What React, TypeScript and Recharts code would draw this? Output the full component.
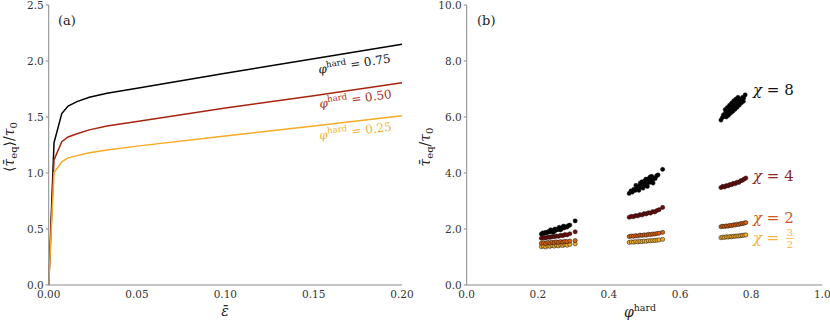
import { LineChart, Line, ScatterChart, Scatter, XAxis, YAxis } from "recharts";

const FONT = "'DejaVu Serif', serif";
const AXIS = "#8a8a8a";
const TICK_TEXT = "#333";

// panel (a): mean equivalent stress vs strain
const strain = [0, 0.003, 0.0074, 0.011, 0.016, 0.023, 0.033, 0.05, 0.1, 0.15, 0.2];
const phi75 = [0, 1.27, 1.53, 1.598, 1.637, 1.676, 1.712, 1.756, 1.89, 2.02, 2.15];
const phi50 = [0, 1.116, 1.28, 1.322, 1.35, 1.385, 1.42, 1.46, 1.58, 1.69, 1.806];
const phi25 = [0, 1.003, 1.1, 1.135, 1.155, 1.18, 1.205, 1.24, 1.33, 1.42, 1.512];
const strainTicks = [0, 0.05, 0.1, 0.15, 0.2];
const stressTicks = [0, 0.5, 1, 1.5, 2, 2.5];

// panel (b): [phi_hard, tau_eq/tau_0] per contrast chi
const chi8: [number, number][] = [
  [0.21, 1.82], [0.214, 1.86], [0.218, 1.84], [0.222, 1.88], [0.226, 1.87], [0.23, 1.91], [0.234, 1.89],
  [0.238, 1.93], [0.242, 1.92], [0.246, 1.96], [0.25, 1.95], [0.254, 1.99], [0.258, 1.98], [0.262, 2.02],
  [0.266, 2.01], [0.27, 2.05], [0.274, 2.04], [0.278, 2.08], [0.282, 2.07], [0.286, 2.12], [0.29, 2.14],
  [0.236, 1.97], [0.248, 2.0], [0.26, 2.06], [0.272, 2.1], [0.244, 1.88], [0.264, 1.97],
  [0.305, 2.29],
  [0.457, 3.27], [0.462, 3.36], [0.466, 3.32], [0.47, 3.42], [0.474, 3.38], [0.478, 3.47], [0.482, 3.43],
  [0.486, 3.53], [0.49, 3.49], [0.494, 3.58], [0.498, 3.54], [0.502, 3.64], [0.506, 3.6], [0.51, 3.69],
  [0.514, 3.66], [0.518, 3.77], [0.522, 3.72], [0.526, 3.82], [0.53, 3.8], [0.534, 3.9], [0.538, 3.93],
  [0.476, 3.56], [0.488, 3.64], [0.5, 3.72], [0.512, 3.8], [0.52, 3.88], [0.484, 3.38], [0.496, 3.46],
  [0.508, 3.52], [0.524, 3.64], [0.492, 3.68], [0.504, 3.78], [0.516, 3.86],
  [0.551, 4.13],
  [0.715, 5.89], [0.719, 5.98], [0.722, 6.08], [0.725, 6.03], [0.728, 6.15], [0.731, 6.1], [0.734, 6.22],
  [0.737, 6.17], [0.74, 6.3], [0.743, 6.24], [0.746, 6.36], [0.749, 6.31], [0.752, 6.43], [0.755, 6.38],
  [0.758, 6.49], [0.761, 6.45], [0.764, 6.57], [0.767, 6.52], [0.77, 6.63], [0.773, 6.6], [0.776, 6.7],
  [0.779, 6.68], [0.783, 6.79],
  [0.727, 6.26], [0.733, 6.34], [0.739, 6.42], [0.745, 6.5], [0.751, 6.58], [0.757, 6.64], [0.763, 6.7],
  [0.73, 6.0], [0.736, 6.06], [0.742, 6.14], [0.748, 6.2], [0.754, 6.27], [0.76, 6.34], [0.766, 6.42],
  [0.772, 6.5], [0.778, 6.56],
];
const chi4: [number, number][] = [
  [0.21, 1.67], [0.216, 1.69], [0.222, 1.68], [0.228, 1.71], [0.234, 1.7], [0.24, 1.73], [0.246, 1.72],
  [0.252, 1.75], [0.258, 1.74], [0.264, 1.77], [0.27, 1.76], [0.276, 1.8], [0.282, 1.79], [0.29, 1.83],
  [0.305, 1.9],
  [0.457, 2.42], [0.463, 2.45], [0.469, 2.44], [0.475, 2.48], [0.481, 2.47], [0.487, 2.51], [0.493, 2.5],
  [0.499, 2.55], [0.505, 2.54], [0.511, 2.58], [0.517, 2.57], [0.523, 2.62], [0.529, 2.61], [0.535, 2.66],
  [0.541, 2.69], [0.551, 2.77],
  [0.715, 3.48], [0.72, 3.52], [0.725, 3.5], [0.73, 3.55], [0.735, 3.54], [0.74, 3.59], [0.745, 3.58],
  [0.75, 3.63], [0.755, 3.62], [0.76, 3.67], [0.765, 3.66], [0.77, 3.72], [0.775, 3.74], [0.78, 3.78],
  [0.785, 3.82],
];
const chi2: [number, number][] = [
  [0.21, 1.49], [0.216, 1.51], [0.222, 1.48], [0.228, 1.52], [0.234, 1.5], [0.24, 1.53], [0.246, 1.51],
  [0.252, 1.54], [0.258, 1.52], [0.264, 1.55], [0.27, 1.53], [0.276, 1.56], [0.282, 1.55], [0.29, 1.57],
  [0.305, 1.59],
  [0.457, 1.73], [0.463, 1.75], [0.469, 1.74], [0.475, 1.76], [0.481, 1.75], [0.487, 1.78], [0.493, 1.77],
  [0.499, 1.79], [0.505, 1.78], [0.511, 1.81], [0.517, 1.8], [0.523, 1.82], [0.529, 1.82], [0.535, 1.84],
  [0.541, 1.85], [0.551, 1.88],
  [0.715, 2.08], [0.72, 2.1], [0.725, 2.09], [0.73, 2.11], [0.735, 2.1], [0.74, 2.13], [0.745, 2.12],
  [0.75, 2.15], [0.755, 2.14], [0.76, 2.17], [0.765, 2.16], [0.77, 2.19], [0.775, 2.19], [0.78, 2.21],
  [0.785, 2.23],
];
const chi15: [number, number][] = [
  [0.21, 1.37], [0.216, 1.39], [0.222, 1.36], [0.228, 1.4], [0.234, 1.38], [0.24, 1.41], [0.246, 1.39],
  [0.252, 1.42], [0.258, 1.4], [0.264, 1.43], [0.27, 1.41], [0.276, 1.44], [0.282, 1.42], [0.29, 1.45],
  [0.305, 1.47],
  [0.457, 1.52], [0.463, 1.54], [0.469, 1.53], [0.475, 1.55], [0.481, 1.54], [0.487, 1.56], [0.493, 1.55],
  [0.499, 1.57], [0.505, 1.56], [0.511, 1.58], [0.517, 1.58], [0.523, 1.59], [0.529, 1.59], [0.535, 1.6],
  [0.541, 1.61], [0.551, 1.63],
  [0.715, 1.69], [0.72, 1.71], [0.725, 1.7], [0.73, 1.72], [0.735, 1.71], [0.74, 1.73], [0.745, 1.72],
  [0.75, 1.74], [0.755, 1.74], [0.76, 1.75], [0.765, 1.75], [0.77, 1.76], [0.775, 1.77], [0.78, 1.78],
  [0.785, 1.79],
];
const phiTicks = [0, 0.2, 0.4, 0.6, 0.8, 1];
const tauTicks = [0, 2, 4, 6, 8, 10];

const curveData = strain.map((e, i) => ({ eps: e, p75: phi75[i], p50: phi50[i], p25: phi25[i] }));
const toPts = (arr: [number, number][]) => arr.map(([phi, tau]) => ({ phi, tau }));

const tickStyle = { fill: TICK_TEXT, fontSize: 10.5, fontFamily: FONT };

const dot = (fill: string) => (p: any) => (
  <circle cx={p.cx} cy={p.cy} r={2.1} fill={fill} stroke="#111" strokeWidth={0.5} />
);

function Overlay() {
  const t = { fontFamily: FONT };
  return (
    <svg width={830} height={323} style={{ position: "absolute", left: 0, top: 0, pointerEvents: "none", fontFamily: FONT }}>
      <text x={58} y={25} fontSize={13} fill="#222" {...t}>(a)</text>
      <text x={477} y={25} fontSize={13} fill="#222" {...t}>(b)</text>

      <text transform="translate(14,147) rotate(-90)" textAnchor="middle" fontSize={14} fill="#222" {...t}>
        ⟨<tspan fontStyle="italic">τ̄</tspan><tspan fontSize={10} dy={3}>eq</tspan><tspan dy={-3}>⟩/</tspan>
        <tspan fontStyle="italic">τ</tspan><tspan fontSize={10} dy={3}>0</tspan>
      </text>
      <text x={225} y={316} textAnchor="middle" fontSize={14} fontStyle="italic" fill="#222" {...t}>ε̄</text>

      <text transform="translate(430,147) rotate(-90)" textAnchor="middle" fontSize={14} fill="#222" {...t}>
        <tspan fontStyle="italic">τ̄</tspan><tspan fontSize={10} dy={3}>eq</tspan><tspan dy={-3}>/</tspan>
        <tspan fontStyle="italic">τ</tspan><tspan fontSize={10} dy={3}>0</tspan>
      </text>
      <text x={640} y={317} textAnchor="middle" fontSize={14} fill="#222" {...t}>
        <tspan fontStyle="italic">φ</tspan><tspan fontSize={9.5} dy={-6}>hard</tspan>
      </text>

      <text transform="translate(355,68) rotate(-9)" textAnchor="middle" fontSize={12} fill="#111" {...t}>
        <tspan fontStyle="italic">φ</tspan><tspan fontSize={8.5} dy={-5}>hard</tspan><tspan dy={5}> = 0.75</tspan>
      </text>
      <text transform="translate(356,103) rotate(-8)" textAnchor="middle" fontSize={12} fill="#a8321e" {...t}>
        <tspan fontStyle="italic">φ</tspan><tspan fontSize={8.5} dy={-5}>hard</tspan><tspan dy={5}> = 0.50</tspan>
      </text>
      <text transform="translate(356,135) rotate(-7)" textAnchor="middle" fontSize={12} fill="#f6b23c" {...t}>
        <tspan fontStyle="italic">φ</tspan><tspan fontSize={8.5} dy={-5}>hard</tspan><tspan dy={5}> = 0.25</tspan>
      </text>

      <text x={753} y={95} fontSize={15} fill="#111" {...t}><tspan fontStyle="italic">χ</tspan> = 8</text>
      <text x={753} y={181} fontSize={15} fill="#8c2a2a" {...t}><tspan fontStyle="italic">χ</tspan> = 4</text>
      <text x={753} y={223} fontSize={15} fill="#d4561a" {...t}><tspan fontStyle="italic">χ</tspan> = 2</text>
      <text x={753} y={243} fontSize={15} fill="#f6b43e" {...t}><tspan fontStyle="italic">χ</tspan> =</text>
      <text x={790} y={236} fontSize={10} textAnchor="middle" fill="#f6b43e" {...t}>3</text>
      <line x1={786} x2={794} y1={238.5} y2={238.5} stroke="#f6b43e" strokeWidth={0.8} />
      <text x={790} y={247.5} fontSize={10} textAnchor="middle" fill="#f6b43e" {...t}>2</text>
    </svg>
  );
}

export default function App() {
  return (
    <div style={{ position: "absolute", left: 0, top: 0, width: 830, height: 323, background: "#fff", fontFamily: FONT }}>
      <div style={{ position: "absolute", left: 0, top: 0 }}>
        <LineChart width={420} height={323} data={curveData} margin={{ top: 5, right: 18, bottom: 0, left: 0 }} style={{ fontFamily: FONT }}>
          <XAxis dataKey="eps" type="number" domain={[0, 0.2]} ticks={strainTicks} tickFormatter={(v) => v.toFixed(2)}
            height={38} stroke={AXIS} tickLine={false} tickSize={0} tickMargin={6} tick={tickStyle} interval={0} />
          <YAxis type="number" domain={[0, 2.5]} ticks={stressTicks} tickFormatter={(v) => v.toFixed(1)}
            width={48.7} stroke={AXIS} tickSize={3} tickMargin={2} tick={tickStyle} interval={0} />
          <XAxis xAxisId="top" orientation="top" type="number" domain={[0, 0.2]} height={0} stroke={AXIS} tick={false} tickLine={false} />
          <YAxis yAxisId="right" orientation="right" type="number" domain={[0, 2.5]} width={0} stroke={AXIS} tick={false} tickLine={false} />
          <Line dataKey="p75" stroke="#000" strokeWidth={1.5} dot={false} isAnimationActive={false} type="linear" />
          <Line dataKey="p50" stroke="#a8230f" strokeWidth={1.5} dot={false} isAnimationActive={false} type="linear" />
          <Line dataKey="p25" stroke="#f8aa22" strokeWidth={1.5} dot={false} isAnimationActive={false} type="linear" />
        </LineChart>
      </div>
      <div style={{ position: "absolute", left: 420, top: 0 }}>
        <ScatterChart width={410} height={323} margin={{ top: 5, right: 7.7, bottom: 0, left: 0 }} style={{ fontFamily: FONT }}>
          <XAxis dataKey="phi" type="number" domain={[0, 1]} ticks={phiTicks} tickFormatter={(v) => v.toFixed(1)}
            height={38} stroke={AXIS} tickLine={false} tickSize={0} tickMargin={6} tick={tickStyle} interval={0} />
          <YAxis dataKey="tau" type="number" domain={[0, 10]} ticks={tauTicks} tickFormatter={(v) => v.toFixed(1)}
            width={46.7} stroke={AXIS} tickSize={3} tickMargin={2} tick={tickStyle} interval={0} />
          <XAxis xAxisId="top" orientation="top" type="number" domain={[0, 1]} height={0} stroke={AXIS} tick={false} tickLine={false} />
          <YAxis yAxisId="right" orientation="right" type="number" domain={[0, 10]} width={0} stroke={AXIS} tick={false} tickLine={false} />
          <Scatter data={toPts(chi15)} shape={dot("#f2ad2a")} isAnimationActive={false} />
          <Scatter data={toPts(chi2)} shape={dot("#d9600f")} isAnimationActive={false} />
          <Scatter data={toPts(chi4)} shape={dot("#6e0b0b")} isAnimationActive={false} />
          <Scatter data={toPts(chi8)} shape={dot("#000")} isAnimationActive={false} />
        </ScatterChart>
      </div>
      <Overlay />
    </div>
  );
}
